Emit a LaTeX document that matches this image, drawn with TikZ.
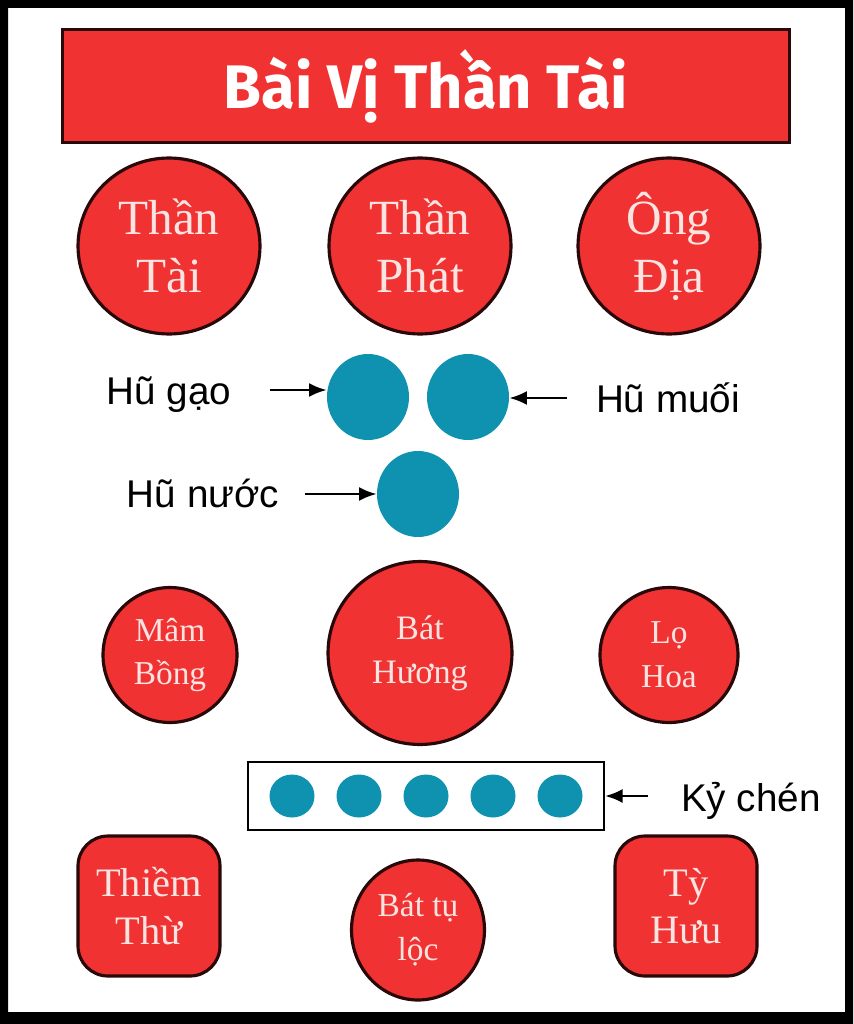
\documentclass[tikz,border=0pt]{standalone}
\usepackage{fontspec}
\setmainfont{Liberation Serif}
\setsansfont{Liberation Sans}
\newfontfamily\titlefont{Fira Sans}
\usetikzlibrary{shapes.geometric,arrows.meta}
\definecolor{altarred}{RGB}{241,50,50}
\definecolor{jarblue}{RGB}{14,146,176}
\definecolor{rimdark}{RGB}{40,8,8}
\definecolor{paletext}{RGB}{250,228,225}
\begin{document}
\begin{tikzpicture}[x=0.02cm, y=-0.02cm,
    offering/.style={ellipse, draw=rimdark, line width=1.8pt, fill=altarred,
        text=paletext, align=center, inner sep=0pt},
    plaque/.style={rectangle, rounded corners=0.6cm, draw=rimdark, line width=1.8pt,
        fill=altarred, text=paletext, align=center,
        minimum width=2.84cm, minimum height=2.8cm},
    jar/.style={ellipse, fill=jarblue, inner sep=0pt,
        minimum width=1.64cm, minimum height=1.72cm},
    cup/.style={ellipse, fill=jarblue, inner sep=0pt,
        minimum width=0.9cm, minimum height=0.86cm},
    tag/.style={font=\sffamily\fontsize{22}{26}\selectfont, anchor=base},
    pointer/.style={-{Latex[length=10pt,width=8pt]}, line width=1.5pt}]
    \useasboundingbox (0,0) rectangle (853,1024);

    % outer frame
    \fill[white] (0,0) rectangle (853,1024);
    \fill[black, even odd rule] (0,0) rectangle (853,1024) (8,8) rectangle (845,1012);

    % title
    \node[draw=rimdark, line width=1.4pt, fill=altarred, text=white,
        minimum width=14.54cm, minimum height=2.26cm,
        font=\titlefont\bfseries\fontsize{35}{40}\selectfont] (title) at (426,86) {Bài Vị Thần Tài};

    % the three deities
    \node[offering, minimum width=3.64cm, minimum height=3.52cm,
        font=\fontsize{28}{33}\selectfont] (thantai) at (169,246) {Thần\\Tài};
    \node[offering, minimum width=3.64cm, minimum height=3.52cm,
        font=\fontsize{28}{33}\selectfont] (thanphat) at (420,246) {Thần\\Phát};
    \node[offering, minimum width=3.64cm, minimum height=3.52cm,
        font=\fontsize{28}{33}\selectfont] (ongdia) at (669,246) {Ông\\Địa};

    % jars
    \node[jar] (gao) at (368,397) {};
    \node[jar] (muoi) at (468,397) {};
    \node[jar] (nuoc) at (418,494) {};

    \node[tag] (lblgao) at (169,404) {Hũ gạo};
    \node[tag] (lblmuoi) at (668,412) {Hũ muối};
    \node[tag] (lblnuoc) at (203,507) {Hũ nước};

    \coordinate (gaotail) at (270,390);
    \coordinate (muoitail) at (567,398);
    \coordinate (nuoctail) at (305,494);
    \draw[pointer] (gaotail) -- (gaotail -| gao.west);
    \draw[pointer] (muoitail) -- (muoitail -| muoi.east);
    \draw[pointer] (nuoctail) -- (nuoctail -| nuoc.west);

    % second row
    \node[offering, minimum width=2.68cm, minimum height=2.7cm,
        font=\fontsize{19}{25}\selectfont] (mambong) at (170,655) {Mâm\\Bồng};
    \node[offering, minimum width=3.68cm, minimum height=3.66cm,
        font=\fontsize{19.5}{25}\selectfont] (bathuong) at (420,653) {Bát\\Hương};
    \node[offering, minimum width=2.76cm, minimum height=2.7cm,
        font=\fontsize{19}{25}\selectfont] (lohoa) at (669,655) {Lọ\\Hoa};

    % cups
    \node[draw, line width=1.2pt, minimum width=7.12cm, minimum height=1.36cm] (tray) at (426,796) {};
    \foreach \i in {1,...,5}
        \node[cup] (cup\i) at (292+67*\i-67,796) {};
    \node[tag] (lblchen) at (751,811) {Kỷ chén};
    \coordinate (chentail) at (648,796);
    \draw[pointer] (chentail) -- (chentail -| tray.east);

    % bottom row
    \node[plaque, font=\fontsize{23}{27}\selectfont] (thiemthu) at (149,906) {Thiềm\\Thừ};
    \node[offering, minimum width=2.66cm, minimum height=2.8cm,
        font=\fontsize{19}{25}\selectfont] (battuloc) at (418,930) {Bát tụ\\lộc};
    \node[plaque, font=\fontsize{23}{27}\selectfont] (tyhuu) at (686,906) {Tỳ\\Hưu};

\end{tikzpicture}
\end{document}
